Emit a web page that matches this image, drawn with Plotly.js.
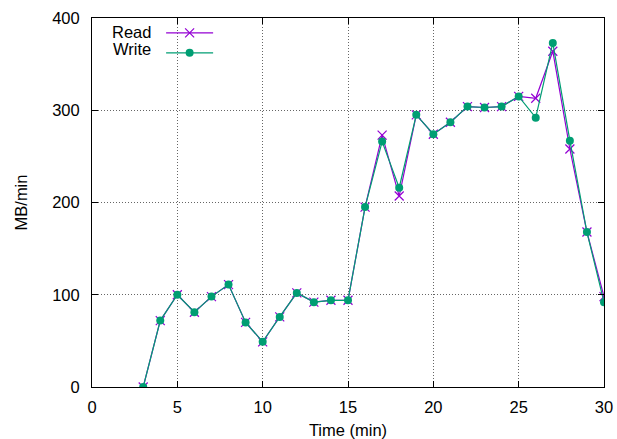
<!DOCTYPE html>
<html><head><meta charset="utf-8">
<script src="https://cdn.plot.ly/plotly-3.0.1.min.js"></script>
<style>html,body{margin:0;padding:0;background:#fff}#c{width:617px;height:439px}</style>
</head><body><div id="c"></div>
<script>
const timeMin = [3,4,5,6,7,8,9,10,11,12,13,14,15,16,17,18,19,20,21,22,23,24,25,26,27,28,29,30];
const readMB  = [0,72,100,81,98,111,70,49,76,102,92,94,94,195,273,207,295,274,287,304,303,304,315,313,364,258,168,98];
const writeMB = [0,72,100,81,98,111,70,49,76,102,92,94,94,195,266,216,295,274,287,304,303,304,315,292,373,267,168,92];
const seriesNames = ['Read','Write'];
const xTicks = [0,5,10,15,20,25,30];
const yTicks = [0,100,200,300,400];

const font = {family:'"Liberation Sans", Arial, sans-serif', size:16.5, color:'#000'};
const traces = [
  {x:timeMin, y:readMB, name:' ', mode:'lines+markers', type:'scatter',
   line:{color:'#9400d3', width:1.2},
   marker:{symbol:'x-thin-open', size:9, line:{color:'#9400d3', width:1.2}, color:'#9400d3'}},
  {x:timeMin, y:writeMB, name:' ', mode:'lines+markers', type:'scatter',
   line:{color:'#009e73', width:1.2},
   marker:{symbol:'circle', size:8, color:'#009e73'}}
];
const axisCommon = {showline:true, mirror:'ticks', linecolor:'#000', linewidth:1,
  ticks:'inside', ticklen:6, tickcolor:'#000', showgrid:true, gridcolor:'#666',
  griddash:'1px,2px', gridwidth:1, zeroline:false, tickfont:font};
const layout = {
  width:617, height:439, font:font,
  paper_bgcolor:'#fff', plot_bgcolor:'#fff',
  margin:{l:92, r:13, t:18, b:52},
  showlegend:true,
  legend:{x:0.135, y:1.0, xanchor:'left', yanchor:'top', bgcolor:'rgba(0,0,0,0)',
    itemwidth:47, tracegroupgap:0, font:{size:13}},
  xaxis:Object.assign({}, axisCommon, {range:[0,30], tickvals:xTicks, ticklabelstandoff:5,
    title:{text:'Time (min)', font:font, standoff:9}}),
  yaxis:Object.assign({}, axisCommon, {range:[0,400], tickvals:yTicks, ticklabelstandoff:8,
    title:{text:'MB/min', font:font, standoff:20}}),
  annotations:[
    {xref:'paper', yref:'paper', x:0.12, y:0.962, xanchor:'right', yanchor:'middle', text:seriesNames[0], showarrow:false, font:font},
    {xref:'paper', yref:'paper', x:0.12, y:0.915, xanchor:'right', yanchor:'middle', text:seriesNames[1], showarrow:false, font:font}
  ]
};
Plotly.newPlot('c', traces, layout, {displayModeBar:false, staticPlot:true});
</script></body></html>
